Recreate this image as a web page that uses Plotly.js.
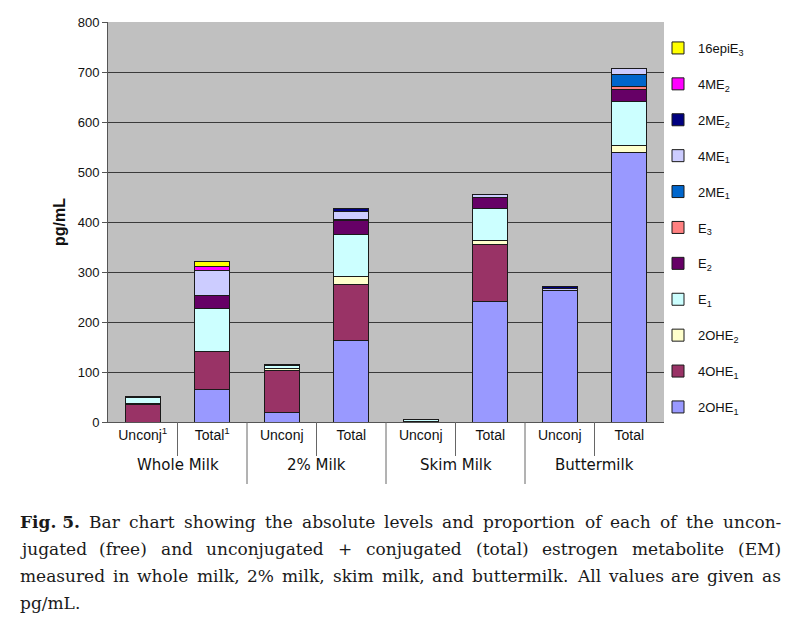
<!DOCTYPE html>
<html>
<head>
<meta charset="utf-8">
<script src="https://cdn.plot.ly/plotly-3.0.1.min.js"></script>
<style>html,body{margin:0;padding:0;background:#fff;}#chart{width:800px;height:618px;}</style>
</head>
<body>
<div id="chart"></div>
<script>
// ---- data ----
const groupNames = ['Whole Milk','2% Milk','Skim Milk','Buttermilk'];
const groups = ['Whole Milk','Whole Milk','2% Milk','2% Milk','Skim Milk','Skim Milk','Buttermilk','Buttermilk'];
const subLabels = ['Unconj<sup>1</sup>','Total<sup>1</sup>','Unconj','Total','Unconj','Total','Unconj','Total'];

const seriesNames = ['2OHE<sub>1</sub>','4OHE<sub>1</sub>','2OHE<sub>2</sub>','E<sub>1</sub>','E<sub>2</sub>','E<sub>3</sub>','2ME<sub>1</sub>','4ME<sub>1</sub>','2ME<sub>2</sub>','4ME<sub>2</sub>','16epiE<sub>3</sub>'];
const v2OHE1  = [0, 65, 20, 164, 0, 242, 264, 539];
const v4OHE1  = [35, 77, 84, 112, 0, 113, 0, 0];
const v2OHE2  = [2, 0, 3, 16, 1, 9, 0, 15];
const vE1     = [12, 85, 6, 84, 4, 63, 0, 87];
const vE2     = [0, 26, 0, 28, 0, 22, 0, 25];
const vE3     = [0, 0, 0, 2, 0, 0, 0, 5];
const v2ME1   = [0, 0, 0, 0, 0, 0, 0, 25];
const v4ME1   = [0, 50, 0, 15, 0, 6, 3, 11];
const v2ME2   = [3, 0, 3, 6, 1, 0, 5, 0];
const v4ME2   = [0, 8, 0, 0, 0, 0, 0, 0];
const v16epiE3= [0, 10, 0, 0, 0, 0, 0, 0];
const seriesValues = [v2OHE1, v4OHE1, v2OHE2, vE1, vE2, vE3, v2ME1, v4ME1, v2ME2, v4ME2, v16epiE3];
const seriesColors = ['#9999FF','#993366','#FFFFCC','#CCFFFF','#660066','#FF8080','#0066CC','#CCCCFF','#000080','#FF00FF','#FFFF00'];

const captionLines = [
  '<b>Fig. 5.</b>  Bar chart showing the absolute levels and proportion of each of the uncon-',
  'jugated (free) and unconjugated + conjugated (total) estrogen metabolite (EM)',
  'measured in whole milk, 2% milk, skim milk, and buttermilk. All values are given as',
  'pg/mL.'
];

// ---- layout constants ----
const W = 800, H = 618;
const M = {l: 108, r: 136, t: 22, b: 196};
const plotW = W - M.l - M.r, plotH = H - M.t - M.b;
const px2x = p => (p - M.l) / plotW;
const py2y = p => (H - M.b - p) / plotH;

const catIds = groups.map((g, i) => g + '|' + i);

const traces = seriesNames.map((n, i) => ({
  type: 'bar',
  name: n,
  legendgroup: 'g' + i,
  legendrank: 100 - i,
  x: catIds,
  y: seriesValues[i].map(v => v === 0 ? null : v),
  marker: {color: seriesColors[i], line: {color: '#1a1a1a', width: 1}},
  hoverinfo: 'skip'
}));

const annotations = [];
const shapes = [];
const nCat = catIds.length;
groupNames.forEach((g, k) => {
  annotations.push({
    xref: 'paper', yref: 'paper', x: (2 * k + 1) / nCat, y: py2y(465),
    xanchor: 'center', yanchor: 'middle', showarrow: false, text: g,
    font: {family: 'DejaVu Sans, Verdana', size: 15, color: '#111'}
  });
});
for (let k = 1; k < nCat; k++) {
  const long = k % 2 === 0;
  shapes.push({
    type: 'line', xref: 'paper', yref: 'paper',
    x0: k / nCat, x1: k / nCat, y0: 0, y1: py2y(long ? 484 : 456),
    line: {color: '#666', width: 1}
  });
}

// caption annotations (justified by measuring words)
const capFont = "DejaVu Serif";
const capSize = 17;
const canvas = document.createElement('canvas');
const ctx = canvas.getContext('2d');
const lineY = [522, 549, 576, 603];
const left = 18, right = 779;
captionLines.forEach((line, li) => {
  let tokens;
  if (li === 0) {
    tokens = ['<b>Fig. 5.</b>'].concat(line.replace('<b>Fig. 5.</b>', '').trim().split(/\s+/));
  } else tokens = line.split(/\s+/);
  const widths = tokens.map(t => {
    const bold = t.startsWith('<b>');
    ctx.font = (bold ? 'bold ' : '') + capSize + 'px "' + capFont + '"';
    return ctx.measureText(t.replace(/<[^>]+>/g, '')).width;
  });
  const total = widths.reduce((a, b) => a + b, 0);
  const justify = li < captionLines.length - 1;
  const gap = justify ? (right - left - total) / (tokens.length - 1) : 5.5;
  let x = left;
  tokens.forEach((t, k) => {
    annotations.push({
      xref: 'paper', yref: 'paper', x: px2x(x), y: py2y(lineY[li]),
      xanchor: 'left', yanchor: 'middle', showarrow: false, text: t,
      font: {family: capFont, size: capSize, color: '#1a1a1a'}
    });
    x += widths[k] + gap;
  });
});

const layout = {
  width: W, height: H,
  margin: M,
  paper_bgcolor: '#ffffff',
  plot_bgcolor: '#C0C0C0',
  barmode: 'stack',
  bargap: 0.5,
  showlegend: true,
  legend: {
    traceorder: 'grouped',
    tracegroupgap: 16,
    x: px2x(658), y: py2y(33), xanchor: 'left', yanchor: 'top',
    font: {family: 'Liberation Sans, Arial', size: 13, color: '#111'},
    bgcolor: 'rgba(0,0,0,0)'
  },
  xaxis: {
    type: 'category',
    tickmode: 'array', tickvals: catIds, ticktext: subLabels,
    showline: true, linecolor: '#555', linewidth: 1,
    ticks: '',
    tickfont: {family: 'Liberation Sans, Arial', size: 14, color: '#111'},
    showgrid: false
  },
  yaxis: {
    range: [0, 800], dtick: 100,
    showgrid: true, gridcolor: '#3a3a3a', gridwidth: 1,
    showline: true, linecolor: '#555', linewidth: 1,
    ticks: 'outside', tickcolor: '#555', ticklen: 5,
    tickfont: {family: 'Liberation Sans, Arial', size: 13, color: '#111'},
    zeroline: false,
    title: {text: '<b>pg/mL</b>', font: {family: 'Liberation Sans, Arial', size: 16, color: '#111'}, standoff: 8}
  },
  shapes: shapes,
  annotations: annotations
};

Plotly.newPlot('chart', traces, layout, {displayModeBar: false, staticPlot: true});
</script>
</body>
</html>
